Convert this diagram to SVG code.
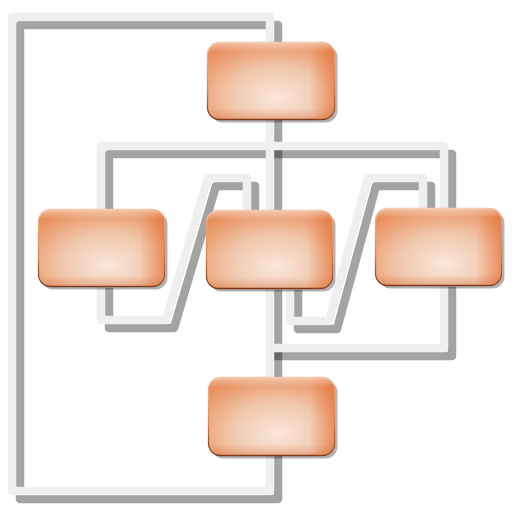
<svg xmlns="http://www.w3.org/2000/svg" xmlns:xlink="http://www.w3.org/1999/xlink" width="513" height="513" viewBox="0 0 513 513">
<style>
.sh{fill:none;stroke:#000;stroke-opacity:0.36;stroke-width:8.5;stroke-linejoin:round;stroke-linecap:square}
.ln{fill:none;stroke:#eef0f0;stroke-width:8.5;stroke-linejoin:round;stroke-linecap:square}
.nshadow{fill:#000;fill-opacity:0.3}
.nbody{fill:url(#nodeFill);stroke:url(#nodeEdge);stroke-width:1.3}
.nright{fill:url(#nodeRight)}
.ntop{fill:url(#nodeTop)}
</style>
<defs>
<radialGradient id="nodeFill" cx="0.55" cy="0.68" r="0.75" fx="0.55" fy="0.72">
<stop offset="0" stop-color="#f9e7dc"/>
<stop offset="0.5" stop-color="#f1c7ab"/>
<stop offset="1" stop-color="#e88e5a"/>
</radialGradient>
<linearGradient id="nodeRight" x1="0" y1="0" x2="1" y2="0">
<stop offset="0.8" stop-color="#e2672a" stop-opacity="0"/>
<stop offset="1" stop-color="#e2672a" stop-opacity="0.55"/>
</linearGradient>
<linearGradient id="nodeTop" x1="0" y1="0" x2="0" y2="1">
<stop offset="0" stop-color="#fff" stop-opacity="0.45"/>
<stop offset="0.12" stop-color="#fff" stop-opacity="0"/>
<stop offset="0.86" stop-color="#c85a25" stop-opacity="0"/>
<stop offset="1" stop-color="#c85a25" stop-opacity="0.3"/>
</linearGradient>
<linearGradient id="nodeEdge" x1="0" y1="0" x2="0" y2="1">
<stop offset="0" stop-color="#f2bc98"/>
<stop offset="0.6" stop-color="#dc8452"/>
<stop offset="1" stop-color="#6e3418"/>
</linearGradient>
<path id="frame" d="M270 46 V17 H12 V491 H270 V452"/>
<path id="center1" d="M270 116 V214"/>
<path id="center2" d="M270 286 V381"/>
<path id="loopTop" d="M101 213 V146 H444 V212"/>
<path id="loopBottom" d="M444 283 V348 H270"/>
<path id="zLeft" d="M101 284 V320 H166 L208 178 H247 V214"/>
<path id="zRight" d="M290 286 V321 H329 L368 178 H423 V212"/>
</defs>
<g id="connectors">
<g id="connector-shadows" transform="translate(8,8)">
<use xlink:href="#frame" class="sh"/>
<use xlink:href="#center1" class="sh"/>
<use xlink:href="#center2" class="sh"/>
<use xlink:href="#loopTop" class="sh"/>
<use xlink:href="#loopBottom" class="sh"/>
<use xlink:href="#zLeft" class="sh"/>
<use xlink:href="#zRight" class="sh"/>
</g>
<g id="connector-lines">
<use xlink:href="#frame" class="ln"/>
<use xlink:href="#center1" class="ln"/>
<use xlink:href="#center2" class="ln"/>
<use xlink:href="#loopTop" class="ln"/>
<use xlink:href="#loopBottom" class="ln"/>
<use xlink:href="#zLeft" class="ln"/>
<use xlink:href="#zRight" class="ln"/>
</g>
</g>
<g id="node-top" transform="translate(207.5,42.5)">
<rect class="nshadow" x="3" y="3" width="127" height="77" rx="12"/>
<rect class="nbody" width="127" height="77" rx="12"/>
<rect class="nright" width="127" height="77" rx="12"/>
<rect class="ntop" width="127" height="77" rx="12"/>
</g>
<g id="node-left" transform="translate(38.5,209.5)">
<rect class="nshadow" x="3" y="3" width="126" height="77" rx="12"/>
<rect class="nbody" width="126" height="77" rx="12"/>
<rect class="nright" width="126" height="77" rx="12"/>
<rect class="ntop" width="126" height="77" rx="12"/>
</g>
<g id="node-middle" transform="translate(206.5,210.5)">
<rect class="nshadow" x="3" y="3" width="126" height="78" rx="12"/>
<rect class="nbody" width="126" height="78" rx="12"/>
<rect class="nright" width="126" height="78" rx="12"/>
<rect class="ntop" width="126" height="78" rx="12"/>
</g>
<g id="node-right" transform="translate(375.5,208.5)">
<rect class="nshadow" x="3" y="3" width="126" height="77" rx="12"/>
<rect class="nbody" width="126" height="77" rx="12"/>
<rect class="nright" width="126" height="77" rx="12"/>
<rect class="ntop" width="126" height="77" rx="12"/>
</g>
<g id="node-bottom" transform="translate(208.5,377.5)">
<rect class="nshadow" x="3" y="3" width="126" height="78" rx="12"/>
<rect class="nbody" width="126" height="78" rx="12"/>
<rect class="nright" width="126" height="78" rx="12"/>
<rect class="ntop" width="126" height="78" rx="12"/>
</g>
</svg>
